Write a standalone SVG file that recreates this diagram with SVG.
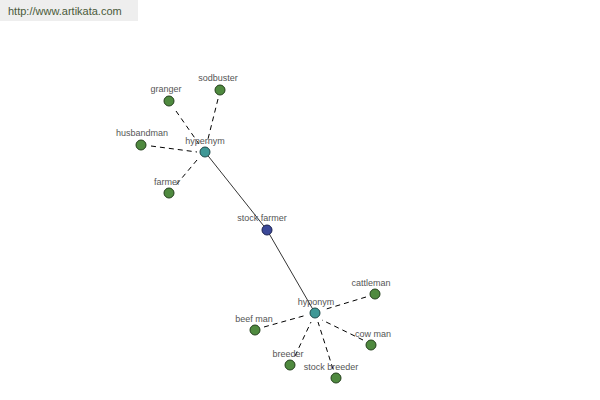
<svg xmlns="http://www.w3.org/2000/svg" width="600" height="400" viewBox="0 0 600 400">
<style>
.lbl{font-family:"Liberation Sans",Arial,sans-serif;font-size:9px;fill:#555;text-anchor:middle}
.leaf{fill:#4f8a3f;stroke:#24401c;stroke-width:1}
.hub{fill:#3f9896;stroke:#1f4a4a;stroke-width:1}
.root{fill:#3b4898;stroke:#1c2250;stroke-width:1}
.dash{stroke:#000;stroke-width:1;stroke-dasharray:5,4;fill:none}
.solid{stroke:#000;stroke-width:0.8;fill:none}
</style>
<rect width="600" height="400" fill="#fff"/>
<g id="watermark">
<rect x="0" y="0" width="138" height="21" fill="#eeeeee"/>
<text x="8" y="15" font-family="'Liberation Sans',Arial,sans-serif" font-size="11" fill="#4a5a3a">http://www.artikata.com</text>
</g>
<g id="connectors">
<line class="solid" x1="205" y1="152" x2="267" y2="230"/>
<line class="solid" x1="267" y1="230" x2="315" y2="313"/>
<line class="dash" x1="218" y1="99" x2="207" y2="143"/>
<line class="dash" x1="176" y1="111" x2="199" y2="144"/>
<line class="dash" x1="151" y1="146" x2="197" y2="152"/>
<line class="dash" x1="197" y1="160" x2="176" y2="185"/>
<line class="dash" x1="366" y1="297" x2="323" y2="310"/>
<line class="dash" x1="264" y1="327" x2="307" y2="315"/>
<line class="dash" x1="363" y1="340" x2="322" y2="320"/>
<line class="dash" x1="295" y1="356" x2="311" y2="322"/>
<line class="dash" x1="333" y1="369" x2="318" y2="322"/>
</g>
<g id="n-sodbuster"><circle class="leaf" cx="220" cy="90" r="5"/><text class="lbl" x="218" y="81">sodbuster</text></g>
<g id="n-granger"><circle class="leaf" cx="169" cy="101" r="5"/><text class="lbl" x="166" y="92">granger</text></g>
<g id="n-husbandman"><circle class="leaf" cx="141" cy="145" r="5"/><text class="lbl" x="142" y="136">husbandman</text></g>
<g id="n-farmer"><circle class="leaf" cx="169" cy="193" r="5"/><text class="lbl" x="167" y="185">farmer</text></g>
<g id="n-hypernym"><circle class="hub" cx="205" cy="152" r="5"/><text class="lbl" x="205" y="144">hypernym</text></g>
<g id="n-stockfarmer"><circle class="root" cx="267" cy="230" r="5"/><text class="lbl" x="262" y="221">stock farmer</text></g>
<g id="n-hyponym"><circle class="hub" cx="315" cy="313" r="5"/><text class="lbl" x="316" y="305">hyponym</text></g>
<g id="n-cattleman"><circle class="leaf" cx="375" cy="294" r="5"/><text class="lbl" x="371" y="286">cattleman</text></g>
<g id="n-beefman"><circle class="leaf" cx="255" cy="330" r="5"/><text class="lbl" x="254" y="322">beef man</text></g>
<g id="n-cowman"><circle class="leaf" cx="371" cy="345" r="5"/><text class="lbl" x="373" y="337">cow man</text></g>
<g id="n-breeder"><circle class="leaf" cx="290" cy="365" r="5"/><text class="lbl" x="288" y="357">breeder</text></g>
<g id="n-stockbreeder"><circle class="leaf" cx="336" cy="378" r="5"/><text class="lbl" x="331" y="370">stock breeder</text></g>
</svg>
